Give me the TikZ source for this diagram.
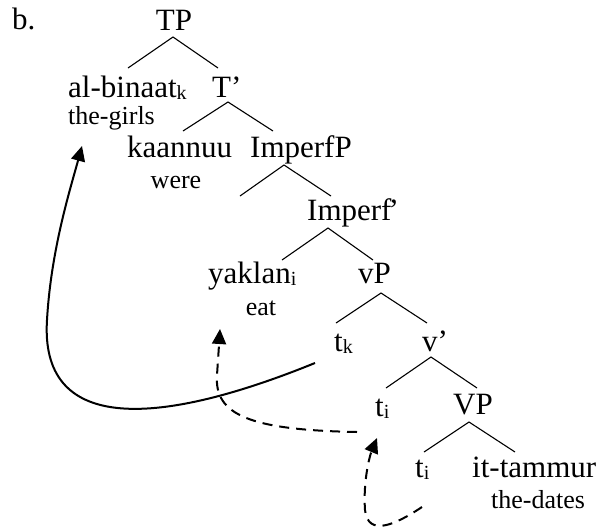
\documentclass[tikz,border=0pt]{standalone}
\usepackage{fontspec}
\setmainfont{Liberation Serif}
\usetikzlibrary{arrows.meta}
\newcommand\subsc[1]{\raisebox{-2.5pt}{\fontsize{20}{20}\selectfont #1}}
\begin{document}
\begin{tikzpicture}[x=1pt,y=-1pt,
  word/.style={inner sep=0pt, font=\fontsize{31}{36}\selectfont},
  gloss/.style={inner sep=0pt, font=\fontsize{26}{30}\selectfont},
  branch/.style={line width=1.1pt},
  move/.style={line width=2pt, -{Triangle[length=15pt,width=14pt]}},
  trace/.style={move, dash pattern=on 10pt off 7pt}]
\useasboundingbox (0,0) rectangle (602,531);
% labels
\node[word,anchor=base west] (lab) at (12,29) {b.};
\node[word,anchor=base] (TP) at (174,30) {TP};
\node[word,anchor=base west] (alb) at (68,97) {al-binaat\subsc{k}};
\node[word,anchor=base west] (Tbar) at (212,97) {T’};
\node[gloss,anchor=base west] (girls) at (68,124) {the-girls};
\node[word,anchor=base west] (kaan) at (127,157) {kaannuu};
\node[word,anchor=base west] (ImpP) at (250,157) {ImperfP};
\node[gloss,anchor=base] (were) at (176,188) {were};
\node[word,anchor=base west] (Impbar) at (307,220) {Imperf\kern-3pt’};
\node[word,anchor=base west] (yak) at (208,283) {yaklan\subsc{i}};
\node[word,anchor=base west] (vP) at (358,283) {vP};
\node[gloss,anchor=base] (eat) at (261,315) {eat};
\node[word,anchor=base west] (tk) at (334,351) {t\subsc{k}};
\node[word,anchor=base west] (vbar) at (422,351) {v’};
\node[word,anchor=base west] (ti1) at (375,416) {t\subsc{i}};
\node[word,anchor=base west] (VP) at (453,414) {VP};
\node[word,anchor=base west] (ti2) at (415,477) {t\subsc{i}};
\node[word,anchor=base west] (itt) at (472,477) {it-tammur};
\node[gloss,anchor=base west] (dates) at (491,508) {the-dates};
% branch points
\coordinate (TP-a) at (173,37);  \coordinate (TP-l) at (128,68);  \coordinate (TP-r) at (218,68);
\coordinate (Tb-a) at (228,102); \coordinate (Tb-l) at (183,131); \coordinate (Tb-r) at (273,131);
\coordinate (IP-a) at (284,165); \coordinate (IP-l) at (240,196); \coordinate (IP-r) at (331,196);
\coordinate (Ib-a) at (328,228); \coordinate (Ib-l) at (282,260); \coordinate (Ib-r) at (373,260);
\coordinate (vP-a) at (381,293); \coordinate (vP-l) at (336,323); \coordinate (vP-r) at (427,323);
\coordinate (vb-a) at (431,357); \coordinate (vb-l) at (386,388); \coordinate (vb-r) at (477,388);
\coordinate (VP-a) at (469,422); \coordinate (VP-l) at (424,452); \coordinate (VP-r) at (515,452);
\foreach \n in {TP,Tb,IP,Ib,vP,vb,VP}{
  \draw[branch] (\n-l) -- (\n-a) -- (\n-r);
}
% movement arrows
\coordinate (m1s) at (315,363);
\coordinate (m1e) at (82,146);
\draw[move] (m1s) .. controls (150,430) and (40,430) .. (47,320)
  .. controls (51,250) and (70,190) .. (m1e);
\coordinate (m2s) at (357,432);
\coordinate (m2e) at (220,329);
\draw[trace] (m2s) .. controls (250,430) and (214,415) .. (217,375)
  .. controls (218,360) and (219,345) .. (m2e);
\coordinate (m3s) at (422,507);
\coordinate (m3e) at (377,438);
\draw[trace] (m3s) .. controls (395,525) and (368,537) .. (365,510)
  .. controls (363,480) and (370,455) .. (m3e);
\end{tikzpicture}
\end{document}
